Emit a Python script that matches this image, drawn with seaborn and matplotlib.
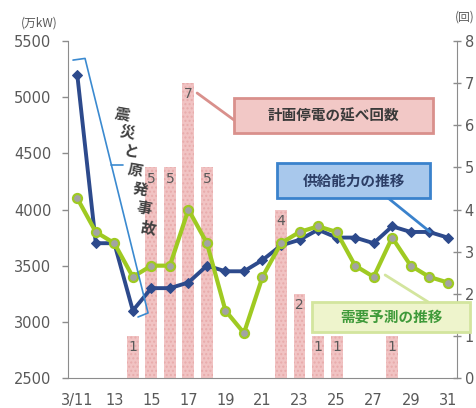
import matplotlib
matplotlib.use("Agg")
import matplotlib.pyplot as plt
from matplotlib.patches import Rectangle
import numpy as np
import pandas as pd
import seaborn as sns

# ---- data -------------------------------------------------------------
days = ['3/11', '12', '13', '14', '15', '16', '17', '18', '19', '20', '21',
        '22', '23', '24', '25', '26', '27', '28', '29', '30', '31']
supply = [5200, 3700, 3700, 3100, 3300, 3300, 3350, 3500, 3450, 3450, 3550,
          3680, 3730, 3820, 3750, 3750, 3700, 3850, 3800, 3800, 3750]      # 供給能力 (万kW)
demand = [4100, 3800, 3700, 3400, 3500, 3500, 4000, 3700, 3100, 2900, 3400,
          3700, 3800, 3850, 3800, 3500, 3400, 3750, 3500, 3400, 3350]      # 需要予測 (万kW)
outages = [0, 0, 0, 1, 5, 5, 7, 5, 0, 0, 0, 4, 2, 1, 1, 0, 0, 1, 0, 0, 0]  # 計画停電の延べ回数 (回)

df = pd.DataFrame({'pos': np.arange(len(days)), 'day': days,
                   'supply': supply, 'demand': demand, 'outages': outages})

# ---- style ------------------------------------------------------------
sns.set_style('white')
plt.rcParams['font.family'] = ['DejaVu Sans', 'Noto Sans CJK JP']
JP = ['Noto Sans CJK JP', 'DejaVu Sans']

NAVY = '#2d4a8c'
LIME = '#9fca22'
PINK = '#f1c3c3'
AXIS = '#8c8c8c'
TXT = '#595959'

fig = plt.figure(figsize=(4.77, 4.08), dpi=100)
ax = fig.add_axes([68 / 477, 30 / 408, 389 / 477, 337 / 408])
ax2 = ax.twinx()

# ---- bars: rolling blackouts (right axis) -----------------------------
sns.barplot(data=df, x='pos', y='outages', ax=ax2, color=PINK, width=0.64,
            saturation=1, linewidth=0)
for p in ax2.patches:
    p.set_hatch('....')
    p.set_edgecolor('#e8abab')
    p.set_linewidth(0)
for i, n in enumerate(outages):
    if n > 0:
        ax2.annotate(str(n), (i, n), xytext=(0, -3), textcoords='offset points',
                     ha='center', va='top', fontsize=10, color=TXT)
ax2.set_ylim(0, 8)
ax2.set_yticks(range(0, 9))
ax2.set_ylabel('')
ax2.set_xlabel('')

# ---- lines: supply / demand (left axis) -------------------------------
ax.set_zorder(ax2.get_zorder() + 1)
ax.patch.set_visible(False)
sns.lineplot(data=df, x='pos', y='supply', ax=ax, color=NAVY, lw=2.8,
             marker='D', markersize=5, markeredgecolor=NAVY, markerfacecolor=NAVY)
sns.lineplot(data=df, x='pos', y='demand', ax=ax, color=LIME, lw=3,
             marker='o', markersize=6.5, markerfacecolor='#a3a3a3',
             markeredgecolor=LIME, markeredgewidth=1.6)

ax.set_ylim(2500, 5500)
ax.set_yticks(range(2500, 5501, 500))
ax.set_xlim(-0.5, len(days) - 0.5)
ax.set_xticks(range(0, len(days), 2))
ax.set_xticklabels(days[::2])
ax.set_xticks(np.arange(-0.5, len(days), 1), minor=True)
ax.set_xlabel('')
ax.set_ylabel('')

for s in ['top', 'right']:
    ax.spines[s].set_visible(False)
for s in ['top', 'left', 'bottom']:
    ax2.spines[s].set_visible(False)
for s in ['left', 'bottom']:
    ax.spines[s].set_color(AXIS)
ax2.spines['right'].set_color(AXIS)

ax.tick_params(axis='y', direction='out', length=4, width=1, color=AXIS,
               labelsize=10.5, labelcolor=TXT, pad=8)
ax.tick_params(axis='x', which='major', length=0, labelsize=10.5,
               labelcolor=TXT, pad=11)
ax.tick_params(axis='x', which='minor', direction='inout', length=6,
               width=1, color=AXIS)
ax2.tick_params(axis='y', direction='inout', length=6, width=1, color=AXIS,
                labelsize=10.5, labelcolor=TXT, pad=2.5)

fig.text(0.082, 0.944, '(万kW)', family=JP, fontsize=8.5, color=TXT,
         ha='center', va='center')
fig.text(0.975, 0.958, '(回)', family=JP, fontsize=8.5, color=TXT,
         ha='center', va='center')

# ---- brace: earthquake and nuclear accident ---------------------------
BRACE = '#3b8ad0'
ax.plot([-0.23, 0.42, 3.82, 3.28], [5330, 5345, 3079, 3043],
        color=BRACE, lw=1.2, solid_joinstyle='round', clip_on=False, zorder=5)
ax.plot([1.84, 2.47], [4396, 4396], color=BRACE, lw=1.2, zorder=5)
label = '震災と原発事故'
xs = np.linspace(2.45, 3.85, len(label))
ys = np.linspace(4850, 3840, len(label))
for ch, x, y in zip(label, xs, ys):
    ax.text(x, y, ch, family=JP, fontsize=11, fontweight='bold',
            color='#404040', ha='center', va='center', rotation=-10, zorder=6)


# ---- callout boxes ----------------------------------------------------
def callout(x0, x1, y0, y1, text, face, edge, tcolor, leader):
    ax.add_patch(Rectangle((x0, y0), x1 - x0, y1 - y0, facecolor=face,
                           edgecolor=edge, lw=2, clip_on=False, zorder=8))
    ax.text((x0 + x1) / 2, (y0 + y1) / 2, text, family=JP, fontsize=10.5,
            fontweight='bold', color=tcolor, ha='center', va='center',
            zorder=9, clip_on=False)
    ax.plot(leader[0], leader[1], color=edge, lw=2, zorder=7, clip_on=False)


callout(8.46, 19.21, 4681, 4993, '計画停電の延べ回数', '#f2c8c6', '#d9908c',
        '#3a3a3a', ([6.47, 8.46], [5037, 4797]))
callout(10.79, 19.05, 4102, 4414, '供給能力の推移', '#a8c8ec', '#3a82cc',
        '#2c3e66', ([16.78, 19.05], [4102, 3800]))
callout(12.67, 21.21, 2910, 3177, '需要予測の推移', '#eef4cc', '#d3e59e',
        '#3f9a3a', ([16.62, 18.94], [3417, 3177]))

fig.savefig('out.png', dpi=100)
